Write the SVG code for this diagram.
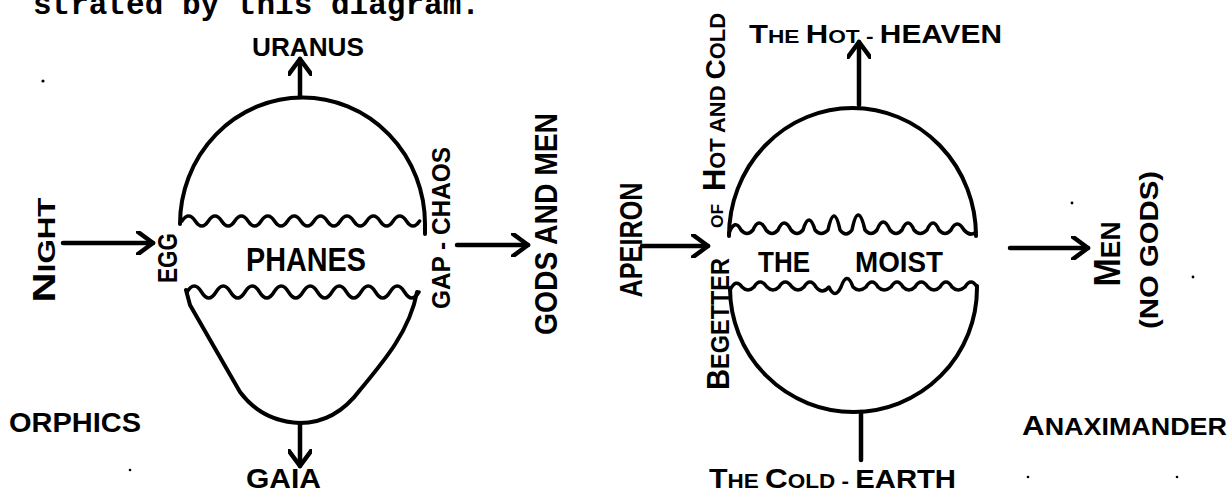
<svg xmlns="http://www.w3.org/2000/svg" width="1230" height="494" viewBox="0 0 1230 494">
<defs>
<style>
.h{font-family:"Liberation Sans",Arial,sans-serif;font-weight:bold;fill:#000}
.t{font-family:"Liberation Mono","Courier New",monospace;font-weight:bold;fill:#000}
.ln{fill:none;stroke:#000;stroke-width:4;stroke-linecap:round;stroke-linejoin:round}
.wv{fill:none;stroke:#000;stroke-width:3.5;stroke-linecap:round;stroke-linejoin:round}
.ar{fill:none;stroke:#000;stroke-width:4.5;stroke-linecap:round}
.arh{marker-end:url(#ah)}
</style>
<marker id="ah" viewBox="0 0 20 24" refX="17" refY="12" markerWidth="20" markerHeight="24" orient="auto" markerUnits="userSpaceOnUse">
<path d="M2,1 L17,12 L2,23" fill="none" stroke="#000" stroke-width="4.5" stroke-linecap="round" stroke-linejoin="round"/>
</marker>
</defs>
<rect width="1230" height="494" fill="#fff"/>

<text class="t" x="33" y="14" font-size="31" textLength="447" lengthAdjust="spacingAndGlyphs">strated by this diagram.</text>

<g id="connectors">
<line class="ar arh" x1="63" y1="243" x2="153" y2="243"/>
<line class="ar arh" x1="300" y1="97" x2="300" y2="59"/>
<line class="ar arh" x1="300" y1="423" x2="300" y2="466"/>
<line class="ar arh" x1="457" y1="245" x2="528" y2="245"/>
<line class="ar arh" x1="642" y1="246" x2="708" y2="246"/>
<line class="ar arh" x1="859" y1="105" x2="859" y2="42"/>
<line class="ar" x1="861" y1="412" x2="861" y2="460"/>
<line class="ar arh" x1="1010" y1="248" x2="1088" y2="248"/>
</g>

<g id="night">
<text class="h" font-size="24" text-anchor="middle" textLength="105" lengthAdjust="spacingAndGlyphs" transform="translate(55,250) rotate(-90)"><tspan font-size="32">N</tspan>IGHT</text>
</g>

<g id="orphic-egg">
<path class="ln" d="M180 224 A122 126 0 0 1 425 224 L425 234"/>
<path class="wv" d="M182 221 q6.6 -10 13.2 0 t13.2 0 t13.2 0 t13.2 0 t13.2 0 t13.2 0 t13.2 0 t13.2 0 t13.2 0 t13.2 0 t13.2 0 t13.2 0 t13.2 0 t13.2 0 t13.2 0 t13.2 0 t13.2 0 t13.2 0"/>
<text class="h" x="246" y="271" font-size="34" textLength="120" lengthAdjust="spacingAndGlyphs">PHANES</text>
<path class="wv" d="M187 292 q7.25 -12 14.5 0 t14.5 0 t14.5 0 t14.5 0 t14.5 0 t14.5 0 t14.5 0 t14.5 0 t14.5 0 t14.5 0 t14.5 0 t14.5 0 t14.5 0 t14.5 0 t14.5 0 t14.5 0"/>
<path class="ln" d="M186 290 L190 305 L240 392 C255 412 275 422 300 423 C325 423 345 410 360 390 C385 360 410 330 417 292"/>
<text class="h" font-size="28" text-anchor="middle" textLength="50" lengthAdjust="spacingAndGlyphs" transform="translate(177,258) rotate(-90)">EGG</text>
<text class="h" font-size="25" text-anchor="middle" textLength="162" lengthAdjust="spacingAndGlyphs" transform="translate(450,228) rotate(-90)">GAP - CHAOS</text>
</g>

<g id="uranus">
<text class="h" x="252" y="56" font-size="25" textLength="112" lengthAdjust="spacingAndGlyphs">URANUS</text>
</g>

<g id="gaia">
<text class="h" x="246" y="488" font-size="27" textLength="75" lengthAdjust="spacingAndGlyphs">GAIA</text>
</g>

<g id="gods-and-men">
<text class="h" font-size="32" text-anchor="middle" textLength="222" lengthAdjust="spacingAndGlyphs" transform="translate(557,224) rotate(-90)">GODS AND MEN</text>
</g>

<g id="orphics">
<text class="h" x="9" y="432" font-size="27" textLength="132" lengthAdjust="spacingAndGlyphs">ORPHICS</text>
</g>

<g id="apeiron">
<text class="h" font-size="32" text-anchor="middle" textLength="115" lengthAdjust="spacingAndGlyphs" transform="translate(642,240) rotate(-90)">APEIRON</text>
</g>

<g id="anaximander-egg">
<path class="ln" d="M729 236 A123.5 128 0 0 1 976 236"/>
<path class="wv" d="M729 233 Q735 218 741 230 Q747 237 753 230 Q759 216 766 230 Q772 237 778 230 Q784 216 791 230 Q797 237 803 230 Q809 210 815 230 Q821 237 828 230 Q834 202 840 230 Q846 238 852 230 Q858 200 865 230 Q871 237 877 230 Q883 214 890 230 Q896 237 902 230 Q908 216 914 230 Q920 237 927 230 Q933 216 939 230 Q945 237 951 230 Q957 218 964 230 Q970 237 976 232"/>
<text class="h" y="272" font-size="30"><tspan x="758" textLength="52" lengthAdjust="spacingAndGlyphs">THE</tspan> <tspan x="855" textLength="88" lengthAdjust="spacingAndGlyphs">MOIST</tspan></text>
<path class="wv" d="M730 290 Q736 278 742 287 Q748 293 754 287 Q760 277 767 287 Q773 293 779 287 Q785 277 792 287 Q798 293 804 287 Q810 277 816 287 Q822 295 829 287 Q835 300 841 287 Q847 270 853 287 Q859 293 866 287 Q872 277 878 287 Q884 293 891 287 Q897 277 903 287 Q909 293 915 287 Q921 277 928 287 Q934 293 940 287 Q946 277 952 287 Q958 293 965 287 Q971 277 977 287"/>
<path class="ln" d="M730 288 A123.5 124 0 0 0 977 288 L977 286"/>
<text class="h" font-size="25" text-anchor="middle" textLength="132" lengthAdjust="spacingAndGlyphs" transform="translate(729,324) rotate(-90)"><tspan font-size="31">B</tspan>EGETTER</text>
<text class="h" font-size="17" text-anchor="middle" textLength="24" lengthAdjust="spacingAndGlyphs" transform="translate(723,216) rotate(-90)">OF</text>
<text class="h" font-size="22" text-anchor="middle" textLength="178" lengthAdjust="spacingAndGlyphs" transform="translate(725,102) rotate(-90)"><tspan font-size="31">H</tspan>OT AND <tspan font-size="28">C</tspan>OLD</text>
</g>

<g id="hot-heaven">
<text class="h" x="749" y="43" font-size="19" textLength="253" lengthAdjust="spacingAndGlyphs"><tspan font-size="26">T</tspan>HE <tspan font-size="26">H</tspan>OT - <tspan font-size="25">HEAVEN</tspan></text>
</g>

<g id="cold-earth">
<text class="h" x="709" y="488" font-size="20" textLength="247" lengthAdjust="spacingAndGlyphs"><tspan font-size="27">T</tspan>HE <tspan font-size="28">C</tspan>OLD - <tspan font-size="26">EARTH</tspan></text>
</g>

<g id="men">
<text class="h" font-size="28" text-anchor="middle" textLength="65" lengthAdjust="spacingAndGlyphs" transform="translate(1120,254) rotate(-90)"><tspan font-size="36">M</tspan>EN</text>
<text class="h" font-size="25" text-anchor="middle" textLength="158" lengthAdjust="spacingAndGlyphs" transform="translate(1158,250) rotate(-90)">(NO GODS)</text>
</g>

<g id="anaximander">
<text class="h" x="1022" y="435" font-size="24" textLength="205" lengthAdjust="spacingAndGlyphs"><tspan font-size="28">A</tspan>NAXIMANDER</text>
</g>

<g id="specks" fill="#000">
<circle cx="43" cy="81" r="1.6"/>
<circle cx="130" cy="470" r="1.3"/>
<circle cx="1072" cy="203" r="1.4"/>
<circle cx="1193" cy="277" r="1.4"/>
<circle cx="1028" cy="477" r="1.3"/>
<circle cx="1177" cy="477" r="1.3"/>
</g>
</svg>
